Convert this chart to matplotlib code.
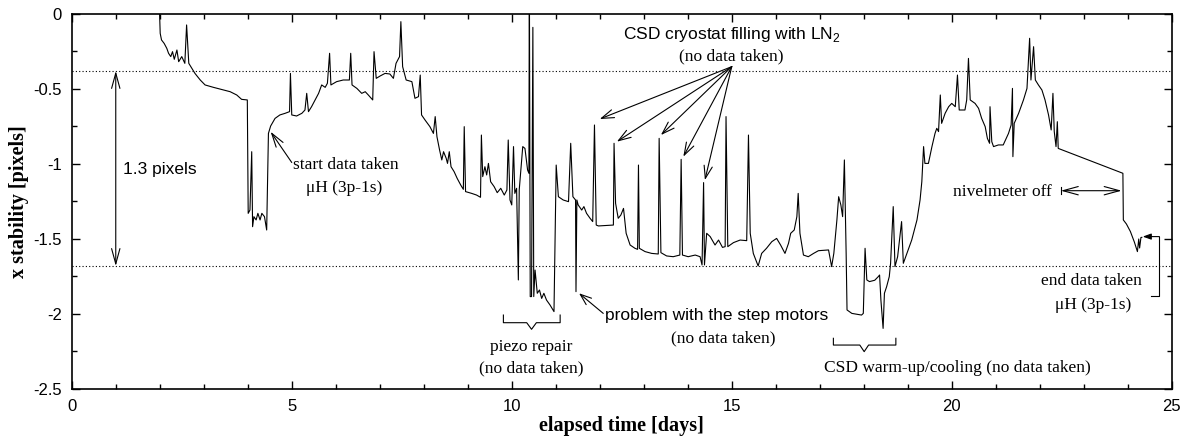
import matplotlib
matplotlib.use('Agg')
import matplotlib.pyplot as plt
from matplotlib.ticker import MultipleLocator, FuncFormatter

# x stability of the crystal spectrometer vs. elapsed time
days = [
    1.97, 2.01, 2.04, 2.10, 2.16, 2.20, 2.25, 2.29, 2.33, 2.39, 2.43, 2.50, 2.57, 2.61, 2.66,
    2.73, 2.80, 2.92, 3.03, 3.22, 3.45, 3.60, 3.75, 3.86, 3.99,
    4.01, 4.05, 4.09, 4.11, 4.14, 4.19, 4.23, 4.28, 4.32, 4.38, 4.43,
    4.47, 4.52, 4.62, 4.73, 4.85, 4.95, 4.97, 5.00, 5.11, 5.23, 5.30, 5.34, 5.38, 5.45,
    5.53, 5.61, 5.68, 5.76, 5.81, 5.86, 5.89, 6.02, 6.17, 6.31, 6.34, 6.37, 6.48, 6.59,
    6.67, 6.74, 6.84, 6.87, 6.92, 7.01, 7.12, 7.23, 7.31, 7.37, 7.45, 7.48, 7.52, 7.60,
    7.73, 7.80, 7.88, 7.92, 7.95, 8.03, 8.14, 8.22, 8.26, 8.30, 8.36, 8.41, 8.45, 8.51,
    8.54, 8.58, 8.62, 8.69, 8.76, 8.84, 8.90, 8.92, 8.95, 9.09, 9.20, 9.29, 9.31, 9.34,
    9.39, 9.43, 9.47, 9.52, 9.60, 9.67, 9.75, 9.83, 9.89, 9.92, 9.96, 10.00, 10.04, 10.07,
    10.11, 10.15, 10.17, 10.25, 10.30, 10.36, 10.39, 10.40, 10.42, 10.45, 10.48, 10.50,
    10.53, 10.58, 10.63, 10.68, 10.73, 10.79, 10.87, 10.96,
    11.01, 11.06, 11.17, 11.29, 11.34, 11.39, 11.45, 11.46, 11.48, 11.51, 11.59, 11.64,
    11.70, 11.78, 11.84, 11.88, 11.92, 11.97, 12.31, 12.325, 12.36, 12.42, 12.48, 12.54,
    12.60, 12.69, 12.80, 12.86, 12.88, 12.90, 13.03, 13.18, 13.33, 13.35, 13.39, 13.52,
    13.67, 13.82, 13.85, 13.88, 14.01, 14.17, 14.28, 14.325, 14.36, 14.38, 14.43, 14.51,
    14.62, 14.70, 14.79, 14.85, 14.87, 14.91, 15.04, 15.19, 15.34, 15.38, 15.42, 15.49,
    15.60, 15.68, 15.79, 15.91, 16.02, 16.11, 16.21, 16.29, 16.34, 16.42, 16.48, 16.51,
    16.55, 16.63, 16.74, 16.86, 16.97, 17.20, 17.27, 17.32, 17.39, 17.43, 17.48, 17.52,
    17.56, 17.60, 17.62, 17.73, 17.95, 17.99, 18.03, 18.07, 18.13, 18.25, 18.33, 18.36,
    18.39, 18.44, 18.47, 18.52, 18.58, 18.61, 18.67, 18.71, 18.77, 18.83, 18.86, 18.90,
    18.98, 19.09, 19.21, 19.28, 19.32, 19.36, 19.39, 19.47, 19.55, 19.62, 19.66, 19.70,
    19.74, 19.77, 19.85, 19.93, 20.00, 20.08, 20.13, 20.17, 20.30, 20.34, 20.38, 20.42,
    20.53, 20.61, 20.68, 20.76, 20.81, 20.86, 20.87, 20.91, 20.95, 21.06, 21.17, 21.29,
    21.35, 21.38, 21.39, 21.42, 21.52, 21.63, 21.71, 21.77, 21.80, 21.86, 21.90, 21.97,
    22.05, 22.12, 22.20, 22.26, 22.30, 22.33, 22.37, 22.40, 22.42,
    23.89, 23.90, 23.97, 24.06, 24.15, 24.22, 24.25, 24.27, 24.30, 24.32,
]
x_stability = [
    0.25, -0.129, -0.173, -0.196, -0.229, -0.262, -0.284, -0.251, -0.302, -0.240, -0.318, -0.284, -0.329, -0.073, -0.329,
    -0.362, -0.396, -0.440, -0.473, -0.489, -0.507, -0.518, -0.540, -0.569, -0.573,
    -1.329, -1.307, -0.918, -1.418, -1.351, -1.373, -1.329, -1.373, -1.329, -1.351, -1.440,
    -0.796, -0.747, -0.696, -0.673, -0.662, -0.651, -0.396, -0.673, -0.680, -0.662, -0.640, -0.529, -0.651, -0.618,
    -0.573, -0.529, -0.473, -0.489, -0.462, -0.262, -0.473, -0.451, -0.440, -0.440, -0.262, -0.473, -0.496, -0.529,
    -0.518, -0.540, -0.573, -0.251, -0.429, -0.413, -0.396, -0.400, -0.429, -0.329, -0.284, -0.051, -0.351, -0.440,
    -0.451, -0.562, -0.551, -0.407, -0.673, -0.707, -0.751, -0.796, -0.684, -0.818, -0.907, -0.973, -0.918, -0.962,
    -0.996, -0.918, -1.018, -1.051, -1.096, -1.140, -1.169, -0.751, -1.184, -1.196, -1.207, -1.222, -0.807, -1.084,
    -1.018, -1.073, -0.996, -1.118, -1.151, -1.191, -1.162, -1.207, -1.173, -0.840, -1.240, -1.273, -0.884, -1.196,
    -1.162, -1.773, -1.173, -0.884, -0.896, -1.040, -1.062, 0.30, -1.884, -1.884, -0.089, -1.884,
    -1.707, -1.862, -1.840, -1.896, -1.862, -1.907, -1.940, -1.984,
    -1.007, -1.218, -1.240, -1.251, -0.862, -1.218, -1.240, -1.851, -1.240, -1.273, -1.307, -1.284,
    -1.329, -1.362, -1.384, -0.740, -1.407, -1.413, -1.407, -0.862, -1.262, -1.362, -1.340, -1.296,
    -1.462, -1.540, -1.562, -1.569, -1.007, -1.562, -1.584, -1.596, -1.600, -0.829, -1.591, -1.613,
    -1.618, -1.607, -0.969, -1.607, -1.618, -1.607, -1.618, -1.673, -1.124, -1.673, -1.462, -1.484,
    -1.540, -1.507, -1.556, -1.551, -0.684, -1.551, -1.524, -1.507, -1.511, -0.807, -1.462, -1.596,
    -1.680, -1.596, -1.562, -1.518, -1.496, -1.540, -1.596, -1.529, -1.462, -1.440, -1.351, -1.196,
    -1.462, -1.607, -1.618, -1.596, -1.578, -1.573, -1.684, -1.596, -1.373, -1.218, -1.273, -1.351,
    -0.973, -1.596, -1.973, -1.996, -2.007, -1.996, -1.562, -1.773, -1.784, -1.775, -1.751, -1.740,
    -1.907, -2.096, -1.862, -1.818, -1.751, -1.662, -1.284, -1.684, -1.618, -1.462, -1.384, -1.662,
    -1.596, -1.507, -1.373, -1.240, -1.118, -0.884, -0.996, -0.996, -0.884, -0.796, -0.762, -0.784,
    -0.540, -0.729, -0.662, -0.618, -0.596, -0.618, -0.407, -0.640, -0.640, -0.573, -0.296, -0.573,
    -0.596, -0.629, -0.696, -0.751, -0.829, -0.862, -0.618, -0.851, -0.884, -0.873, -0.873, -0.796,
    -0.740, -0.496, -0.951, -0.729, -0.662, -0.573, -0.496, -0.162, -0.440, -0.218, -0.440, -0.473,
    -0.507, -0.573, -0.673, -0.773, -0.529, -0.784, -0.884, -0.718, -0.896,
    -1.062, -1.373, -1.400, -1.450, -1.520, -1.584, -1.500, -1.560, -1.490, -1.489,
]

# band limits (1.3 pixels apart)
upper_level = -0.38
lower_level = -1.68

# spikes caused by LN2 filling of the CSD cryostat
ln2_spikes = [(12.0, -0.70), (12.39, -0.851), (13.39, -0.807), (13.9, -0.951), (14.39, -1.107)]

SANS = 'Liberation Sans'
SERIF = 'Liberation Serif'
plt.rcParams['font.family'] = SANS
plt.rcParams['axes.unicode_minus'] = False
plt.rcParams['mathtext.fontset'] = 'custom'
plt.rcParams['mathtext.rm'] = SANS

fig = plt.figure(figsize=(11.92, 4.43), dpi=100)
ax = fig.add_axes([0.0602, 0.1219, 0.9228, 0.8465])

ax.plot(days, x_stability, color='black', lw=0.8)
ax.axhline(upper_level, color='black', lw=0.8, linestyle=(0, (1, 2)))
ax.axhline(lower_level, color='black', lw=0.8, linestyle=(0, (1, 2)))

ax.set_xlim(0, 25)
ax.set_ylim(-2.5, 0)
ax.xaxis.set_major_locator(MultipleLocator(5))
ax.xaxis.set_minor_locator(MultipleLocator(1))
ax.yaxis.set_major_locator(MultipleLocator(0.5))
ax.yaxis.set_minor_locator(MultipleLocator(0.25))
ax.xaxis.set_major_formatter(FuncFormatter(lambda v, p: '%g' % v))
ax.yaxis.set_major_formatter(FuncFormatter(lambda v, p: '%g' % v))
ax.tick_params(which='both', direction='in', top=True, right=True, width=1)
ax.tick_params(which='major', length=6, labelsize=12, pad=7)
ax.tick_params(which='minor', length=3.5)
for s in ax.spines.values():
    s.set_linewidth(1.2)

ax.set_xlabel('elapsed time [days]', family=SERIF, weight='bold', fontsize=14.5, labelpad=2)
ax.set_ylabel('x stability [pixels]', family=SERIF, weight='bold', fontsize=14.5, labelpad=3)

# 1.3 pixels band
ax.annotate('', xy=(1.0, upper_level), xytext=(1.0, lower_level),
            arrowprops=dict(arrowstyle='<->,head_length=1.1,head_width=0.3', lw=0.8,
                            shrinkA=0, shrinkB=0))
ax.text(1.17, -1.04, '1.3 pixels', fontsize=12.5, va='center', ha='left')

# start of data taking
ax.annotate('', xy=(4.52, -0.785), xytext=(5.0, -0.99),
            arrowprops=dict(arrowstyle='->,head_length=1.0,head_width=0.3', lw=0.8,
                            shrinkA=0, shrinkB=0))
ax.text(6.22, -1.007, 'start data taken', family=SERIF, fontsize=12.5, ha='center', va='center')
ax.text(6.2, -1.162, 'μH (3p-1s)', family=SERIF, fontsize=12.5, ha='center', va='center')

# LN2 filling
ax.text(15.0, -0.14, r'CSD cryostat filling with LN$_\mathrm{2}$', fontsize=12.5, ha='center', va='center')
ax.text(15.0, -0.284, '(no data taken)', family=SERIF, fontsize=12.5, ha='center', va='center')
for sx, sy in ln2_spikes:
    ax.annotate('', xy=(sx, sy), xytext=(15.0, -0.351),
                arrowprops=dict(arrowstyle='->,head_length=0.9,head_width=0.3', lw=0.8,
                                shrinkA=0, shrinkB=0))

# piezo repair bracket
ax.plot([9.81, 9.81, 10.34, 10.45, 10.56, 11.10, 11.10],
        [-2.007, -2.058, -2.058, -2.102, -2.058, -2.058, -2.007], color='black', lw=0.8)
ax.text(10.45, -2.218, 'piezo repair', family=SERIF, fontsize=12.5, ha='center', va='center')
ax.text(10.45, -2.362, '(no data taken)', family=SERIF, fontsize=12.5, ha='center', va='center')

# step motors
ax.annotate('', xy=(11.53, -1.862), xytext=(12.08, -1.996),
            arrowprops=dict(arrowstyle='->,head_length=0.8,head_width=0.3', lw=0.8,
                            shrinkA=0, shrinkB=0))
ax.text(12.12, -2.007, 'problem with the step motors', fontsize=12.5, ha='left', va='center')
ax.text(14.81, -2.162, '(no data taken)', family=SERIF, fontsize=12.5, ha='center', va='center')

# CSD warm-up bracket
ax.plot([17.31, 17.31, 17.91, 18.01, 18.11, 18.73, 18.73],
        [-2.162, -2.207, -2.207, -2.251, -2.207, -2.207, -2.162], color='black', lw=0.8)
ax.text(20.12, -2.362, 'CSD warm-up/cooling (no data taken)', family=SERIF, fontsize=12.5,
        ha='center', va='center')

# nivelmeter off
ax.annotate('', xy=(22.48, -1.178), xytext=(23.86, -1.178),
            arrowprops=dict(arrowstyle='<->,head_length=1.1,head_width=0.3', lw=0.8,
                            shrinkA=0, shrinkB=0))
ax.plot([22.48, 22.48], [-1.153, -1.203], color='black', lw=0.8)
ax.text(22.27, -1.184, 'nivelmeter off', family=SERIF, fontsize=12.5, ha='right', va='center')

# end of data taking
ax.plot([24.52, 24.72, 24.72], [-1.88, -1.88, -1.484], color='black', lw=0.8)
ax.annotate('', xy=(24.34, -1.484), xytext=(24.72, -1.484),
            arrowprops=dict(arrowstyle='-|>,head_length=0.5,head_width=0.18', lw=0.8,
                            color='black', shrinkA=0, shrinkB=0))
ax.text(23.18, -1.78, 'end data taken', family=SERIF, fontsize=12.5, ha='center', va='center')
ax.text(23.22, -1.94, 'μH (3p-1s)', family=SERIF, fontsize=12.5, ha='center', va='center')

fig.savefig('out.png', dpi=100, facecolor='white')
